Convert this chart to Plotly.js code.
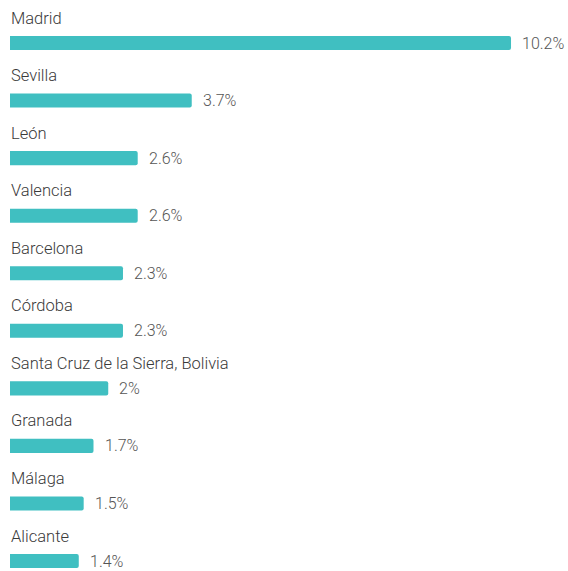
<!DOCTYPE html>
<html>
<head>
<meta charset="utf-8">
<script src="https://cdn.plot.ly/plotly-3.0.1.min.js"></script>
<style>html,body{margin:0;padding:0;background:#fff;}#chart{width:568px;height:571px;}</style>
</head>
<body>
<div id="chart"></div>
<script>
const categories = ["Madrid","Sevilla","León","Valencia","Barcelona","Córdoba","Santa Cruz de la Sierra, Bolivia","Granada","Málaga","Alicante"];
const values = [10.2, 3.7, 2.6, 2.6, 2.3, 2.3, 2, 1.7, 1.5, 1.4];
const valueLabels = ["10.2%","3.7%","2.6%","2.6%","2.3%","2.3%","2%","1.7%","1.5%","1.4%"];

const font = "Roboto, 'Noto Sans', sans-serif";
const annotations = [];
categories.forEach((c, i) => {
  annotations.push({x: 0, y: c, xref: 'x', yref: 'y', text: c, showarrow: false,
    xanchor: 'left', yanchor: 'middle', yshift: 25, xshift: -1,
    font: {family: font, size: 16.5, color: '#3a3a3a', weight: 300}});
  annotations.push({x: values[i], y: c, xref: 'x', yref: 'y', text: valueLabels[i], showarrow: false,
    xanchor: 'left', yanchor: 'middle', xshift: 9,
    font: {family: font, size: 16, color: '#555555', weight: 300}});
});

const trace = {
  type: 'bar', orientation: 'h', x: values, y: categories,
  width: 0.245,
  marker: {color: '#40bfc1', cornerradius: 2},
  hoverinfo: 'none'
};

const layout = {
  width: 568, height: 571,
  margin: {l: 10, r: 0, t: 0, b: 0},
  paper_bgcolor: '#ffffff', plot_bgcolor: '#ffffff',
  showlegend: false,
  xaxis: {range: [0, 11.36], visible: false, fixedrange: true},
  yaxis: {type: 'category', categoryorder: 'array', categoryarray: categories,
          range: [9.173, -0.747], visible: false, fixedrange: true},
  annotations: annotations
};

Plotly.newPlot('chart', [trace], layout, {displayModeBar: false, staticPlot: true});
</script>
</body>
</html>
